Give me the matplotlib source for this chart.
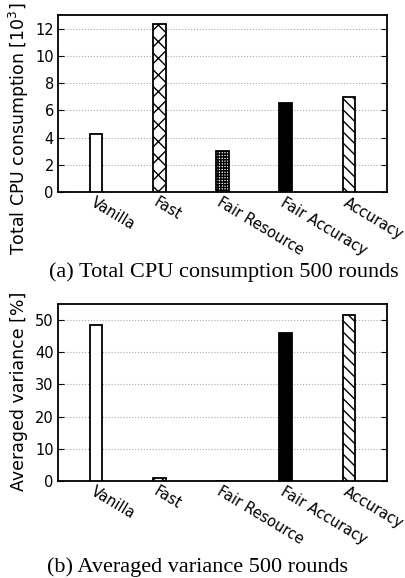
import matplotlib

matplotlib.use("Agg")
import matplotlib.pyplot as plt
import numpy as np

METHODS = ["Vanilla", "Fast", "Fair Resource", "Fair Accuracy", "Accuracy"]
CPU_TOTAL = [4.24, 12.33, 3.04, 6.57, 7.01]      # 10^3
AVG_VARIANCE = [48.4, 0.9, 0.05, 46.0, 51.5]     # %

FACES = ["white", "white", "white", "black", "white"]
HATCHES = ["", "xx", "++++++", "", "\\\\\\"]

plt.rcParams.update({
    "font.family": "DejaVu Sans",
    "font.size": 10.5,
    "hatch.linewidth": 1.0,
    "axes.linewidth": 1.3,
})

W, H = 406, 578
fig = plt.figure(figsize=(W / 100, H / 100), dpi=100)


def panel(top, bottom, values, ylim, yticks):
    ax = fig.add_axes([58 / W, (H - bottom) / H, 329 / W, (bottom - top) / H])
    x = np.arange(len(values))
    ax.bar(x, values, width=0.2, color=FACES, hatch=HATCHES,
           edgecolor="black", linewidth=1.3, zorder=3)
    ax.set_xlim(-0.6, 4.6)
    ax.set_ylim(*ylim)
    ax.set_yticks(yticks)
    ax.grid(True, axis="y", color="#aaaaaa", linestyle=":", linewidth=0.8, zorder=0)
    ax.tick_params(axis="y", direction="in", length=4, right=True,
                   labelsize=10.5, pad=3)
    ax.set_xticks(x)
    ax.set_xticklabels(METHODS, rotation=-31, ha="left", va="top",
                       rotation_mode="anchor", fontsize=10.5)
    ax.tick_params(axis="x", length=0, pad=2)
    return ax


ax1 = panel(15, 192, CPU_TOTAL, (0, 13), [0, 2, 4, 6, 8, 10, 12])
ax2 = panel(304, 481, AVG_VARIANCE, (0, 55), [0, 10, 20, 30, 40, 50])

fig.text(19 / W, 1 - 129 / H, r"Total CPU consumption [$10^3$]", rotation=90,
         ha="center", va="center", fontsize=12.5)
fig.text(19 / W, 1 - 391 / H, "Averaged variance [%]", rotation=90,
         ha="center", va="center", fontsize=12.5)

fig.text(224 / W, 1 - 272 / H, "(a) Total CPU consumption 500 rounds",
         ha="center", va="center", fontsize=16, family="Liberation Serif")
fig.text(198 / W, 1 - 567 / H, "(b) Averaged variance 500 rounds",
         ha="center", va="center", fontsize=16, family="Liberation Serif")

fig.savefig("out.png", dpi=100)
